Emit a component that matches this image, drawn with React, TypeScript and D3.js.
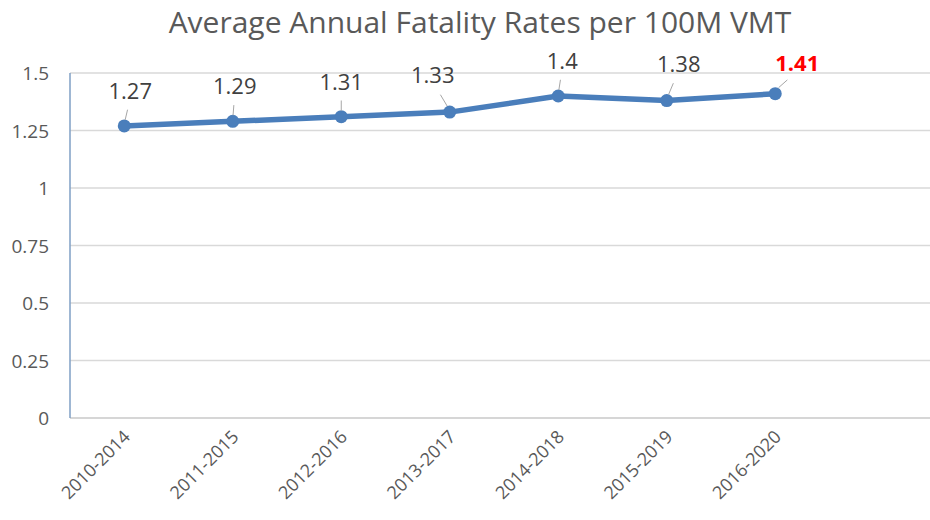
import { useEffect, useRef } from 'react';
import * as d3 from 'd3';

const periods = ['2010-2014', '2011-2015', '2012-2016', '2013-2017', '2014-2018', '2015-2019', '2016-2020'];
const rates = [1.27, 1.29, 1.31, 1.33, 1.4, 1.38, 1.41];
const yTicks = [0, 0.25, 0.5, 0.75, 1, 1.25, 1.5];
// label placement relative to each point (dx, dy)
const labelOffsets = [[6, -27], [2, -27], [0, -27], [-17, -29], [4, -27], [12, -29], [22, -23]];

export default function App() {
  const svgRef = useRef<SVGSVGElement>(null);

  useEffect(() => {
    if (!svgRef.current) return;
    const width = 930, height = 520;
    const left = 70, top = 73, bottom = 418;

    const svg = d3.select(svgRef.current);
    svg.selectAll('*').remove();
    svg.attr('width', width).attr('height', height);

    svg.append('rect').attr('width', width).attr('height', height).attr('fill', '#fff');

    const x = d3.scaleBand<string>().domain(periods).range([left, left + 7 * 108.5]);
    const y = d3.scaleLinear().domain([0, 1.5]).range([bottom, top]);
    const font = '"Open Sans", sans-serif';

    svg.append('text')
      .attr('x', 480).attr('y', 33)
      .attr('text-anchor', 'middle')
      .attr('font-family', font).attr('font-size', 30)
      .attr('fill', '#595959')
      .text('Average Annual Fatality Rates per 100M VMT');

    // gridlines
    svg.append('g').selectAll('line')
      .data(yTicks)
      .enter().append('line')
      .attr('x1', left).attr('x2', width)
      .attr('y1', d => y(d)).attr('y2', d => y(d))
      .attr('stroke', d => d === 0 ? '#c8c8c8' : '#d9d9d9')
      .attr('stroke-width', 1.5);

    svg.append('line')
      .attr('x1', left).attr('x2', left)
      .attr('y1', top).attr('y2', bottom)
      .attr('stroke', '#7f9fc4').attr('stroke-width', 1.5);

    svg.append('g').selectAll('text')
      .data(yTicks)
      .enter().append('text')
      .attr('x', 49).attr('y', d => y(d) + 7)
      .attr('text-anchor', 'end')
      .attr('font-family', font).attr('font-size', 19)
      .attr('fill', '#595959')
      .text(d => String(d));

    svg.append('g').selectAll('text')
      .data(periods)
      .enter().append('text')
      .attr('transform', d => `translate(${x(d)! + x.bandwidth() / 2 + 7},${438}) rotate(-45)`)
      .attr('text-anchor', 'end')
      .attr('font-family', font).attr('font-size', 18)
      .attr('fill', '#595959')
      .text(d => d);

    const cx = (i: number) => x(periods[i])! + x.bandwidth() / 2;

    const line = d3.line<number>()
      .x((_, i) => cx(i))
      .y(d => y(d));

    svg.append('path')
      .datum(rates)
      .attr('d', line)
      .attr('fill', 'none')
      .attr('stroke', '#4a7ebb')
      .attr('stroke-width', 5.5)
      .attr('stroke-linejoin', 'round');

    svg.append('g').selectAll('circle')
      .data(rates)
      .enter().append('circle')
      .attr('cx', (_, i) => cx(i)).attr('cy', d => y(d))
      .attr('r', 6.5)
      .attr('fill', '#4a7ebb');

    // leader lines
    svg.append('g').selectAll('line')
      .data(rates)
      .enter().append('line')
      .attr('x1', (_, i) => cx(i) + labelOffsets[i][0] * 0.15)
      .attr('y1', d => y(d) - 6)
      .attr('x2', (_, i) => cx(i) + labelOffsets[i][0] * 0.55)
      .attr('y2', (d, i) => y(d) + labelOffsets[i][1] * 0.6)
      .attr('stroke', '#a6a6a6').attr('stroke-width', 1);

    svg.append('g').selectAll('text')
      .data(rates)
      .enter().append('text')
      .attr('x', (_, i) => cx(i) + labelOffsets[i][0])
      .attr('y', (d, i) => y(d) + labelOffsets[i][1])
      .attr('text-anchor', 'middle')
      .attr('font-family', font).attr('font-size', 22)
      .attr('font-weight', (_, i) => i === rates.length - 1 ? 'bold' : 'normal')
      .attr('fill', (_, i) => i === rates.length - 1 ? '#ff0000' : '#404040')
      .text(d => String(d));
  }, []);

  return <svg ref={svgRef} style={{ position: 'absolute', left: 0, top: 0 }}></svg>;
}
